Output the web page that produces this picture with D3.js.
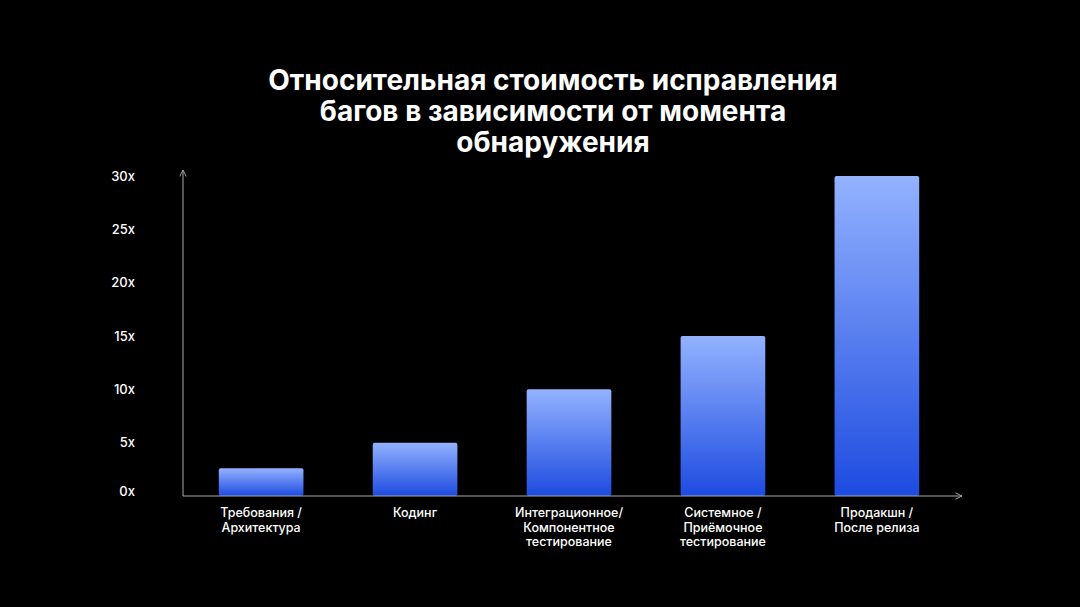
<!DOCTYPE html><html><head><meta charset="utf-8">
<script src="https://cdn.jsdelivr.net/npm/d3@7/dist/d3.min.js"></script>
<style>body{margin:0;background:#000}text{font-family:Inter,"Noto Sans",sans-serif}</style></head><body>
<svg id="c" width="1080" height="607"></svg>
<script>
const categories=[["Требования /","Архитектура"],["Кодинг"],["Интеграционное/","Компонентное","тестирование"],["Системное /","Приёмочное","тестирование"],["Продакшн /","После релиза"]];
const values=[2.6,5,10,15,30];
const tickValues=[0,5,10,15,20,25,30];
const tickLabels=["0x","5x","10x","15x","20x","25x","30x"];
const titleLines=["Относительная стоимость исправления","багов в зависимости от момента","обнаружения"];

const svg=d3.select("#c");
svg.append("rect").attr("width",1080).attr("height",607).attr("fill","#000");
const defs=svg.append("defs");
const g=defs.append("linearGradient").attr("id","gr").attr("x1",0).attr("x2",0).attr("y1",0).attr("y2",1);
g.append("stop").attr("offset","0%").attr("stop-color","#93b2ff");
g.append("stop").attr("offset","100%").attr("stop-color","#1d4be0");
const mk=defs.append("marker").attr("id","ar").attr("viewBox","0 0 10 10").attr("refX",9).attr("refY",5).attr("markerWidth",8).attr("markerHeight",8).attr("orient","auto-start-reverse");
mk.append("path").attr("d","M1,1L9,5L1,9").attr("fill","none").attr("stroke","#aaa").attr("stroke-width",1.2);

const x=d3.scaleBand().domain(d3.range(categories.length)).range([188,950]).paddingInner(0.45).paddingOuter(0.2);
const y=d3.scaleLinear().domain([0,30]).range([496,176]);

svg.selectAll(".t").data(titleLines).enter().append("text").attr("x",553).attr("y",(d,i)=>90+i*31)
 .attr("text-anchor","middle").attr("fill","#fff").attr("font-size",28).attr("font-weight",700).text(d=>d);

svg.selectAll(".b").data(values).enter().append("rect")
 .attr("x",(d,i)=>x(i)).attr("width",x.bandwidth()).attr("y",d=>y(d)).attr("height",d=>y(0)-y(d))
 .attr("rx",2).attr("fill","url(#gr)");

svg.append("line").attr("x1",183).attr("x2",183).attr("y1",496).attr("y2",170).attr("stroke","#aaa").attr("marker-end","url(#ar)");
svg.append("line").attr("x1",183).attr("x2",962).attr("y1",496).attr("y2",496).attr("stroke","#aaa").attr("marker-end","url(#ar)");

svg.selectAll(".yt").data(tickValues).enter().append("text").attr("x",135).attr("y",d=>y(d)).attr("dy",d=>d===0?"0":"0.35em")
 .attr("text-anchor","end").attr("fill","#fff").attr("font-size",13).attr("font-weight",500).text((d,i)=>tickLabels[i]);

categories.forEach((lines,i)=>{
 svg.append("text").attr("x",x(i)+x.bandwidth()/2).attr("y",517).attr("text-anchor","middle").attr("fill","#fff")
  .attr("font-size",12.5).attr("font-weight",500)
  .selectAll("tspan").data(lines).enter().append("tspan").attr("x",x(i)+x.bandwidth()/2).attr("dy",(d,j)=>j?14.5:0).text(d=>d);
});
</script></body></html>
